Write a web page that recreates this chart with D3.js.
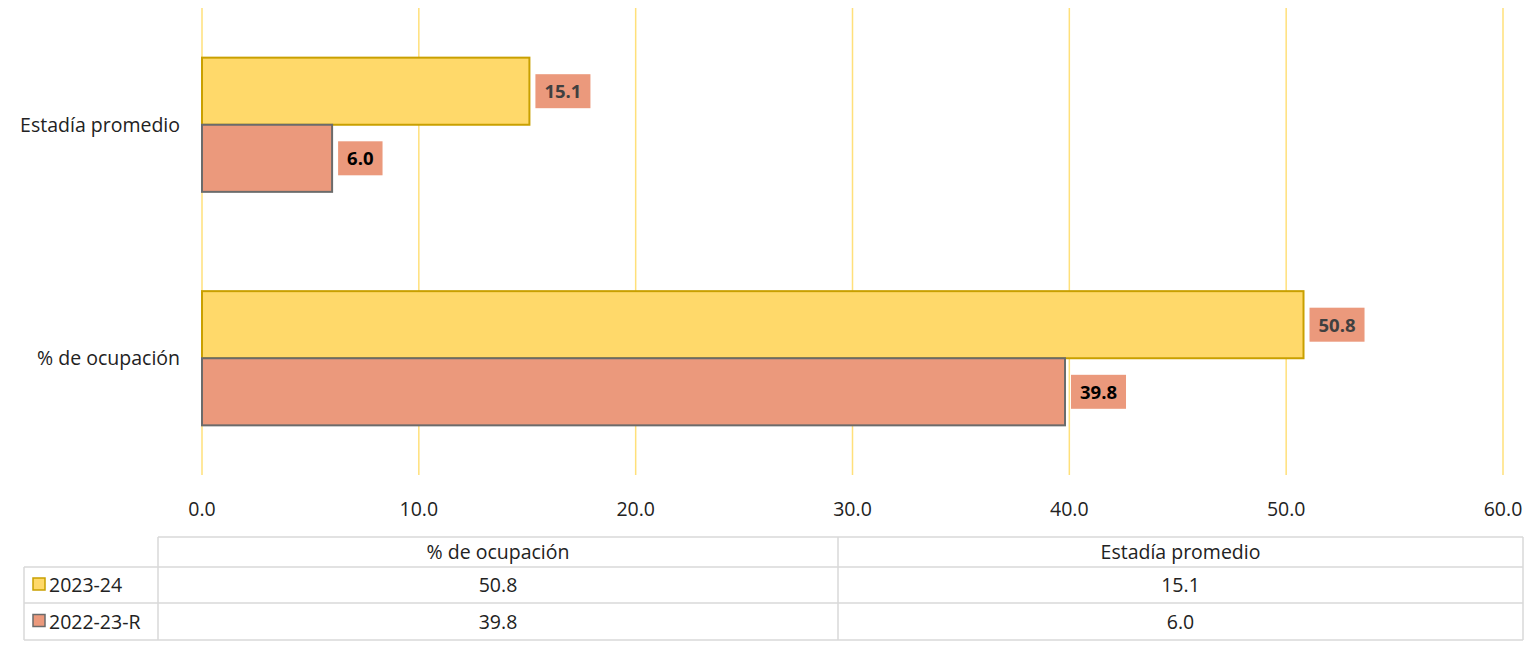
<!DOCTYPE html>
<html><head><meta charset="utf-8">
<script src="https://cdn.jsdelivr.net/npm/d3@7"></script>
<style>body{margin:0;background:#fff}svg{display:block;font-family:"Open Sans","Noto Sans",sans-serif}</style>
</head><body><svg id="c" width="1537" height="662"></svg>
<script>
const categories = ["Estadía promedio", "% de ocupación"];
const seriesNames = ["2023-24", "2022-23-R"];
const values2023 = [15.1, 50.8];
const values2022 = [6.0, 39.8];
const tableColumns = ["% de ocupación", "Estadía promedio"];
const ticks = [0, 10, 20, 30, 40, 50, 60];

const fills = ["#FFD96A", "#EB997C"];
const strokes = ["#C9A000", "#6b6b6b"];
const labelText = ["#404040", "#000000"];
const seriesVals = [values2023, values2022];
const FS = 19.5;

const svg = d3.select("#c");
const x = d3.scaleLinear().domain([0, 60]).range([202, 1503]);
const y = d3.scaleBand().domain(categories).range([8, 475]);
const inner = d3.scaleBand().domain(seriesNames).range([0, y.bandwidth()]).paddingInner(0).paddingOuter(0.74);

// gridlines
svg.append("g").selectAll("line").data(ticks).join("line")
  .attr("x1", d => x(d)).attr("x2", d => x(d)).attr("y1", 8).attr("y2", 475)
  .attr("stroke", "#FFE07A").attr("stroke-width", 1.5);

// tick labels
svg.append("g").selectAll("text").data(ticks).join("text")
  .attr("x", d => x(d)).attr("y", 516).attr("text-anchor", "middle")
  .attr("font-size", FS).attr("fill", "#222").text(d => d.toFixed(1));

// category labels
svg.append("g").selectAll("text").data(categories).join("text")
  .attr("x", 180).attr("y", d => y(d) + y.bandwidth() / 2 + 7).attr("text-anchor", "end")
  .attr("font-size", FS).attr("fill", "#222").text(d => d);

// bars
seriesNames.forEach((s, si) => {
  const g = svg.append("g");
  const data = categories.map((c, i) => ({c, v: seriesVals[si][i]}));
  g.selectAll("rect").data(data).join("rect")
    .attr("x", x(0)).attr("y", d => y(d.c) + inner(s))
    .attr("width", d => x(d.v) - x(0)).attr("height", inner.bandwidth())
    .attr("fill", fills[si]).attr("stroke", strokes[si]).attr("stroke-width", 2);
  const lab = g.selectAll("g.lab").data(data).join("g").attr("class", "lab");
  lab.each(function(d) {
    const gg = d3.select(this);
    const t = gg.append("text").attr("font-size", 18.5).attr("font-weight", "bold")
      .attr("fill", labelText[si]).text(d.v.toFixed(1));
    const w = t.node().getComputedTextLength();
    const bx = x(d.v) + 6, cy = y(d.c) + inner(s) + inner.bandwidth() / 2;
    gg.insert("rect", "text").attr("x", bx).attr("y", cy - 17).attr("width", w + 18).attr("height", 34)
      .attr("fill", "#EB997C");
    t.attr("x", bx + 9).attr("y", cy + 7);
  });
});

// data table
const tx0 = 24, tx1 = 158, tx2 = 838, tx3 = 1523;
const rowY = [537, 567, 603, 640];
const colX = d3.scaleOrdinal().domain(tableColumns).range([tx1, tx2]);
const colW = [tx2 - tx1, tx3 - tx2];
const tg = svg.append("g");
const lineCol = "#d9d9d9";
tg.append("line").attr("x1", tx1).attr("x2", tx3).attr("y1", rowY[0]).attr("y2", rowY[0]).attr("stroke", lineCol).attr("stroke-width", 1.5);
[1, 2, 3].forEach(i => tg.append("line").attr("x1", tx0).attr("x2", tx3).attr("y1", rowY[i]).attr("y2", rowY[i]).attr("stroke", lineCol).attr("stroke-width", 1.5));
tg.append("line").attr("x1", tx0).attr("x2", tx0).attr("y1", rowY[1]).attr("y2", rowY[3]).attr("stroke", lineCol).attr("stroke-width", 1.5);
[tx1, tx2, tx3].forEach(xx => tg.append("line").attr("x1", xx).attr("x2", xx).attr("y1", rowY[0]).attr("y2", rowY[3]).attr("stroke", lineCol).attr("stroke-width", 1.5));
tableColumns.forEach((c, i) => tg.append("text").attr("x", colX(c) + colW[i] / 2).attr("y", (rowY[0] + rowY[1]) / 2 + 7)
  .attr("text-anchor", "middle").attr("font-size", FS).attr("fill", "#222").text(c));
seriesNames.forEach((s, si) => {
  const cy = (rowY[si + 1] + rowY[si + 2]) / 2;
  tg.append("rect").attr("x", 33).attr("y", cy - 7).attr("width", 12).attr("height", 12)
    .attr("fill", fills[si]).attr("stroke", strokes[si]).attr("stroke-width", 1.5);
  tg.append("text").attr("x", 49).attr("y", cy + 7).attr("font-size", FS).attr("fill", "#222").text(s);
  const rowVals = tableColumns.map(c => seriesVals[si][categories.indexOf(c)]);
  tableColumns.forEach((c, i) => tg.append("text").attr("x", colX(c) + colW[i] / 2).attr("y", cy + 7)
    .attr("text-anchor", "middle").attr("font-size", FS).attr("fill", "#222").text(rowVals[i].toFixed(1)));
});
</script></body></html>
